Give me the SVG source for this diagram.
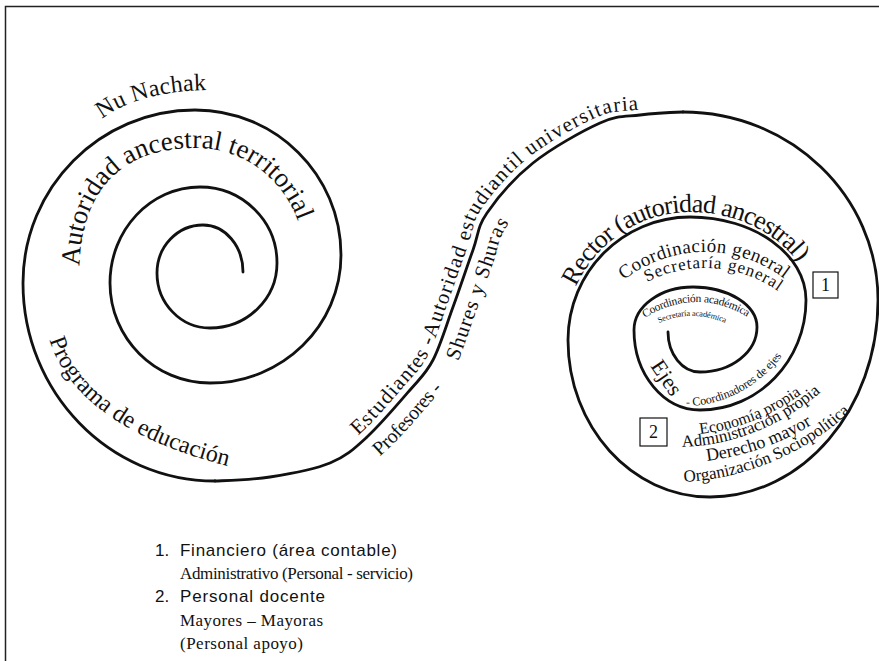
<svg xmlns="http://www.w3.org/2000/svg" width="879" height="661" viewBox="0 0 879 661">
<style>
.line{fill:none;stroke:#111;stroke-width:2.8;stroke-linecap:round;stroke-linejoin:round}
.frame{fill:none;stroke:#222;stroke-width:1.5}
.serif{font-family:"Liberation Serif","Times New Roman",serif;fill:#111}
.sans{font-family:"Liberation Sans",Arial,sans-serif;fill:#111}
.box{fill:#fff;stroke:#111;stroke-width:1.2}
</style>
<defs>
<path id="pNu" d="M102,119 C123,102 163,90 212,90"/>
<path id="pAut" d="M80,290 C74,205 110,148 195,148 C250,148 292,185 304,242"/>
<path id="pProg" d="M48,335 C62,390 120,440 232,467"/>
<path id="pEst" d="M325,458 C341.2,451.3 348.7,444.2 362,432 C375.3,419.8 394,397.8 405,385 C416,372.2 420.8,368.8 428,355 C435.2,341.2 441.3,320.3 448,302 C454.7,283.7 462.3,260.7 468,245 C473.7,229.3 472,222.5 482,208 C492,193.5 509.2,173 528,158 C546.8,143 577.2,126 595,118 C612.8,110 621.2,111.8 635,110 C648.8,108.2 663.7,107.5 678,107 L720,107"/>
<path id="pProf" d="M350,476 C366.2,469.3 373.7,462.2 387,450 C400.3,437.8 419,415.8 430,403 C441,390.2 445.8,386.8 453,373 C460.2,359.2 466.3,338.3 473,320 C479.7,301.7 487.3,278.7 493,263 C498.7,247.3 497,240.5 507,226 C517,211.5 534.2,191 553,176"/>
<path id="pRector" d="M563,345 C563,270 621,212 690,212 C755,212 810,254 810,300"/>
<path id="pCoordG" d="M624,280 A131,131 0 0 1 786,280"/>
<path id="pSecG" d="M647,282 A127,127 0 0 1 782,294"/>
<path id="pCoordA" d="M645,318 A92.5,92.5 0 0 1 750,319"/>
<path id="pSecA" d="M659,323 A80,80 0 0 1 729,325"/>
<path id="pCoordE" d="M686,406 C744,406 802,357 802,296"/>
<path id="pEco" d="M700,434 A214,214 0 0 0 803,393"/>
<path id="pAdm" d="M682,447 A222,222 0 0 0 823,390"/>
<path id="pDer" d="M707,461 A269,269 0 0 0 813,424"/>
<path id="pOrg" d="M684,482 A267,267 0 0 0 852,410"/>
</defs>
<rect width="879" height="661" fill="#fff"/>
<path class="frame" d="M5.5,661 V6.5 H879"/>

<g id="connectors">
<path id="left-spiral" class="line" d="M243,272 C243,246 225.1,225 203,225 C177.6,225 157,246.5 157,273 C157,303.4 180.7,328 210,328 C247,328 277,298.9 277,263 C277,221 242.5,187 200,187 C150.3,187 110,230 110,283 C110,338.2 154.8,383 210,383 C282.4,383 341,325.7 341,255 C341,174.9 275.6,110 195,110 C100,110 23,187.5 23,283 C23,392.4 109,481 215,481"/>
<path id="s-curve" class="line" d="M215,481 C233.3,480.3 250.8,480 270,477 C289.2,474 313.8,469.7 330,463 C346.2,456.3 353.7,449.2 367,437 C380.3,424.8 399,402.8 410,390 C421,377.2 425.8,373.8 433,360 C440.2,346.2 446.3,325.3 453,307 C459.7,288.7 467.3,265.7 473,250 C478.7,234.3 477,227.5 487,213 C497,198.5 514.2,178 533,163 C551.8,148 582.2,131 600,123 C617.8,115 626.2,116.8 640,115 C653.8,113.2 668.7,112.5 683,112"/>
<path id="right-spiral" class="line" d="M683,112 C790.7,112 878,196.2 878,300 C878,408.8 802.8,497 710,497 C631.6,497 568,426.7 568,340 C568,272.1 622.6,217 690,217 C754.1,217 806,254.2 806,300 C806,360.8 758.5,410 700,410 C663.5,410 634,374.2 634,330 C634,306.3 660.4,287 693,287 C728.3,287 757,304.9 757,327 C757,351.9 731.5,372 700,372 C682.3,372 668,354.1 668,332"/>
</g>

<g id="left-spiral-labels" class="serif">
<text font-size="24"><textPath href="#pNu" textLength="110" lengthAdjust="spacing">Nu Nachak</textPath></text>
<text font-size="27"><textPath href="#pAut" startOffset="24" textLength="322" lengthAdjust="spacing">Autoridad ancestral territorial</textPath></text>
<text font-size="24"><textPath href="#pProg" startOffset="5" textLength="228" lengthAdjust="spacing">Programa de educación</textPath></text>
</g>

<g id="s-curve-labels" class="serif">
<text font-size="21"><textPath href="#pEst" startOffset="40" textLength="455" lengthAdjust="spacing">Estudiantes -Autoridad estudiantil universitaria</textPath></text>
<text font-size="20"><textPath href="#pProf" startOffset="36" textLength="92" lengthAdjust="spacing">Profesores -</textPath></text>
<text font-size="21"><textPath href="#pProf" startOffset="160" textLength="148" lengthAdjust="spacing">Shures y Shuras</textPath></text>
</g>

<g id="right-spiral-labels" class="serif">
<text font-size="26"><textPath href="#pRector" startOffset="60" textLength="268" lengthAdjust="spacing">Rector (autoridad ancestral)</textPath></text>
<text font-size="19"><textPath href="#pCoordG" textLength="172" lengthAdjust="spacing">Coordinación general</textPath></text>
<text font-size="17"><textPath href="#pSecG" textLength="138" lengthAdjust="spacing">Secretaría general</textPath></text>
<text font-size="11.5"><textPath href="#pCoordA" textLength="108" lengthAdjust="spacing">Coordinación académica</textPath></text>
<text font-size="8.3"><textPath href="#pSecA" textLength="68" lengthAdjust="spacing">Secretaría académica</textPath></text>
<text font-size="22" transform="translate(650,366) rotate(56)">Ejes</text>
<text font-size="12"><textPath href="#pCoordE" textLength="112" lengthAdjust="spacing">- Coordinadores de ejes</textPath></text>
<text font-size="16"><textPath href="#pEco" textLength="110" lengthAdjust="spacing">Economía propia</textPath></text>
<text font-size="17"><textPath href="#pAdm" textLength="152" lengthAdjust="spacing">Administración propia</textPath></text>
<text font-size="18"><textPath href="#pDer" textLength="112" lengthAdjust="spacing">Derecho mayor</textPath></text>
<text font-size="17"><textPath href="#pOrg" textLength="184" lengthAdjust="spacing">Organización Sociopolítica</textPath></text>
</g>

<g id="box-1">
<rect class="box" x="813" y="272" width="25" height="26"/>
<text class="serif" x="825.5" y="291" font-size="18" text-anchor="middle">1</text>
</g>
<g id="box-2">
<rect class="box" x="640" y="418" width="27" height="28"/>
<text class="serif" x="653.5" y="438" font-size="18" text-anchor="middle">2</text>
</g>

<g id="legend">
<text class="sans" x="155" y="556" font-size="17">1.</text>
<text class="sans" x="180" y="556" font-size="17" textLength="217" lengthAdjust="spacing">Financiero (área contable)</text>
<text class="serif" x="180" y="579" font-size="17" textLength="233" lengthAdjust="spacing">Administrativo (Personal - servicio)</text>
<text class="sans" x="155" y="602" font-size="17">2.</text>
<text class="sans" x="180" y="602" font-size="17" textLength="145" lengthAdjust="spacing">Personal docente</text>
<text class="serif" x="180" y="626" font-size="17" textLength="143" lengthAdjust="spacing">Mayores – Mayoras</text>
<text class="serif" x="180" y="649" font-size="17" textLength="123" lengthAdjust="spacing">(Personal apoyo)</text>
</g>
</svg>
